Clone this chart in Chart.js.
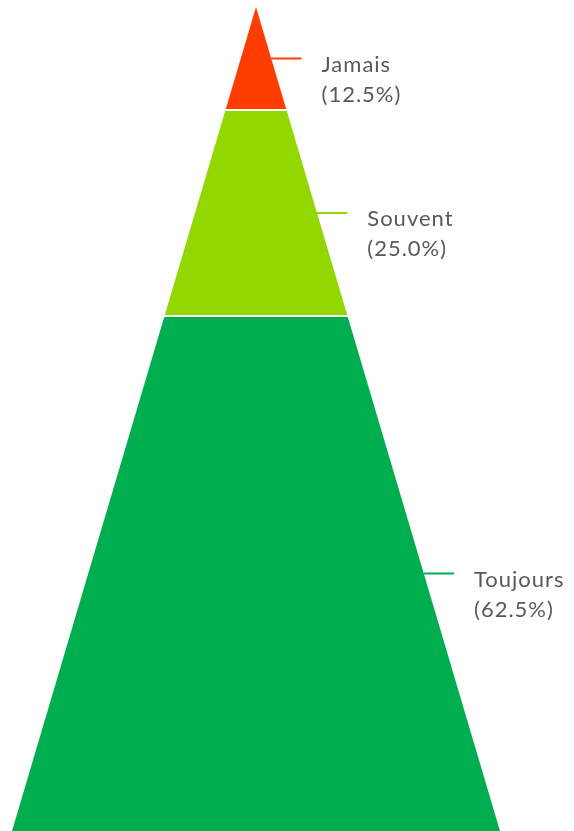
<!DOCTYPE html>
<html>
<head>
<meta charset="utf-8">
<script src="https://cdn.jsdelivr.net/npm/chart.js@4.4.1/dist/chart.umd.min.js"></script>
<style>
  html, body { margin: 0; padding: 0; background: #fff; overflow: hidden; }
</style>
</head>
<body>
<canvas id="funnel" width="574" height="831"></canvas>
<script>
// pyramid data, top to bottom
const categories = ['Jamais', 'Souvent', 'Toujours'];
const shares     = [12.5, 25.0, 62.5];
const colors     = ['#ff3d00', '#92d800', '#00ae50'];

const HALF_BASE = 50;   // half width at the base, same units as the 0..100 height
const LEADER    = 6.2;  // leader line length, x units
const LABEL_FONT = "22px Lato";

let acc = 0;
const slices = shares.map(v => { const s = { from: acc, to: acc + v }; acc += v; return s; });
const halfAt = y => y / 100 * HALF_BASE;

const datasets = [];

// the trapezoids (drawn first, lowest layer)
slices.forEach((s, i) => {
  datasets.push({
    label: categories[i],
    data: [
      { x: -halfAt(s.from), y: s.from },
      { x:  halfAt(s.from), y: s.from },
      { x:  halfAt(s.to),   y: s.to },
      { x: -halfAt(s.to),   y: s.to },
    ],
    showLine: true, fill: 'shape', backgroundColor: colors[i],
    borderWidth: 0, borderColor: 'rgba(0,0,0,0)', pointRadius: 0, tension: 0,
    order: 2,
  });
});

// white gaps between slices
slices.slice(1).forEach(s => {
  datasets.push({
    data: [{ x: -halfAt(s.from) - 1, y: s.from }, { x: halfAt(s.from) + 1, y: s.from }],
    showLine: true, fill: false, borderColor: '#fff', borderWidth: 2, pointRadius: 0,
    order: 1,
  });
});

// leader lines from the right edge, at the middle of each slice
slices.forEach((s, i) => {
  const mid = (s.from + s.to) / 2;
  datasets.push({
    data: [{ x: halfAt(mid), y: mid }, { x: halfAt(mid) + LEADER, y: mid }],
    showLine: true, fill: false, borderColor: colors[i], borderWidth: 2, pointRadius: 0,
    order: 1,
    leaderOf: i,
  });
});

const labelPlugin = {
  id: 'pyramidLabels',
  afterDatasetsDraw(chart) {
    const { ctx } = chart;
    ctx.save();
    ctx.font = LABEL_FONT;
    ctx.letterSpacing = '1px';
    ctx.fillStyle = '#595959';
    ctx.textBaseline = 'middle';
    ctx.textAlign = 'left';
    chart.data.datasets.forEach((ds, di) => {
      if (ds.leaderOf === undefined) return;
      const end = chart.getDatasetMeta(di).data[1];
      const i = ds.leaderOf;
      ctx.fillText(categories[i], end.x + 20, end.y + 6);
      ctx.fillText('(' + shares[i].toFixed(1) + '%)', end.x + 20, end.y + 36);
    });
    ctx.restore();
  },
};

new Chart(document.getElementById('funnel'), {
  type: 'scatter',
  data: { datasets },
  plugins: [labelPlugin],
  options: {
    responsive: false,
    animation: false,
    layout: { padding: 0 },
    plugins: { legend: { display: false }, tooltip: { enabled: false } },
    scales: {
      x: { type: 'linear', display: false, min: -52.46, max: 65.16 },
      y: { type: 'linear', display: false, min: -0.85, max: 100, reverse: true },
    },
  },
});
</script>
</body>
</html>
